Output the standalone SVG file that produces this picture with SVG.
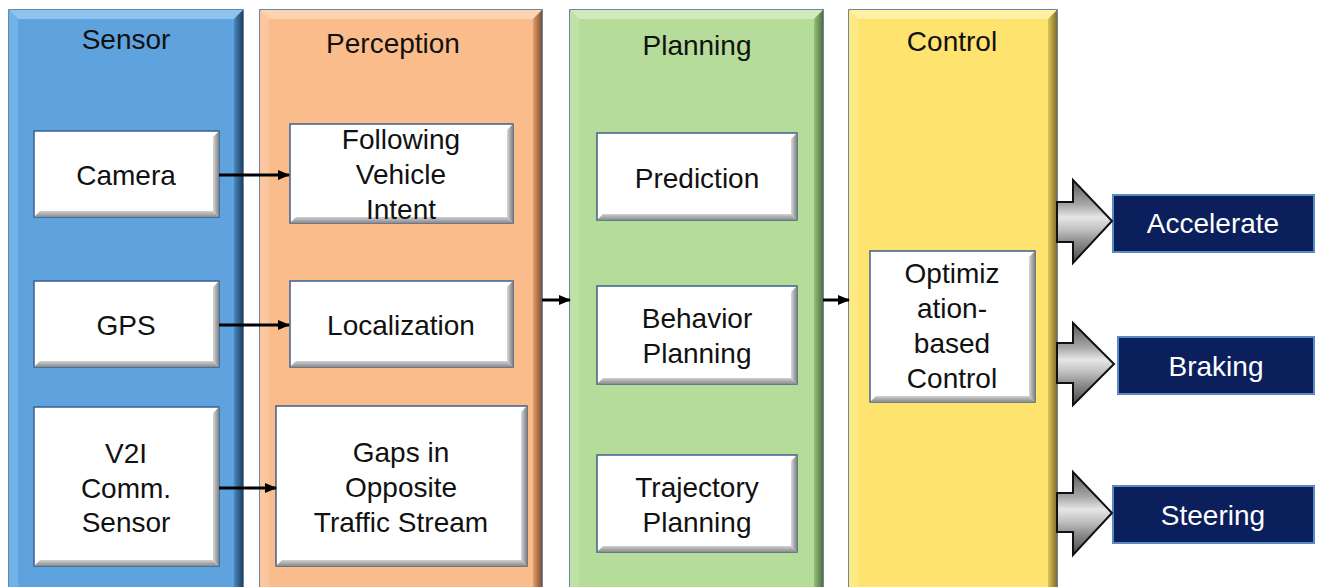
<svg xmlns="http://www.w3.org/2000/svg" width="1320" height="587" viewBox="0 0 1320 587">
<defs>
<style>
.t{font-family:"Liberation Sans",Arial,sans-serif;font-size:28px;fill:#111;text-anchor:middle}
.w{fill:#fff}
.pstroke{stroke:#3a5f8a;stroke-width:1.5}
.box{fill:#fff;stroke:#3b6090;stroke-width:1.5}
.br{fill:url(#gR)}
.bb{fill:url(#gB)}
.out{fill:#0b1f5c;stroke:#5a8ac0;stroke-width:2}
.conn{stroke:#000;stroke-width:3;fill:none;marker-end:url(#ah)}
.garrow{fill:url(#gA);stroke:#111;stroke-width:2;stroke-linejoin:miter}
</style>
<linearGradient id="gR" x1="0" y1="0" x2="1" y2="0"><stop offset="0" stop-color="#d8d8d8"/><stop offset="1" stop-color="#808080"/></linearGradient>
<linearGradient id="gB" x1="0" y1="0" x2="0" y2="1"><stop offset="0" stop-color="#d0d0d0"/><stop offset="1" stop-color="#8a8a8a"/></linearGradient>
<linearGradient id="gA" x1="0" y1="0" x2="0" y2="1"><stop offset="0" stop-color="#5a5a5a"/><stop offset="0.3" stop-color="#a8a8a8"/><stop offset="0.45" stop-color="#e6e6e6"/><stop offset="0.6" stop-color="#c0c0c0"/><stop offset="0.75" stop-color="#8c8c8c"/><stop offset="1" stop-color="#4a4a4a"/></linearGradient>
<linearGradient id="gSr" x1="0" y1="0" x2="1" y2="0"><stop offset="0" stop-color="#4a88c0"/><stop offset="1" stop-color="#1f3f60"/></linearGradient>
<linearGradient id="gPr" x1="0" y1="0" x2="1" y2="0"><stop offset="0" stop-color="#e49e6a"/><stop offset="1" stop-color="#7a5034"/></linearGradient>
<linearGradient id="gLr" x1="0" y1="0" x2="1" y2="0"><stop offset="0" stop-color="#95bf78"/><stop offset="1" stop-color="#53703f"/></linearGradient>
<linearGradient id="gCr" x1="0" y1="0" x2="1" y2="0"><stop offset="0" stop-color="#e0c455"/><stop offset="1" stop-color="#7e6c2a"/></linearGradient>
<marker id="ah" markerWidth="12" markerHeight="10" refX="11" refY="5" orient="auto" markerUnits="userSpaceOnUse"><path d="M0,0 L12,5 L0,10 Z" fill="#000"/></marker>
</defs>
<rect width="1320" height="587" fill="#fff"/>

<g id="panel-sensor">
<rect x="9" y="10" width="234" height="600" fill="#5ea3dd" class="pstroke"/>
<polygon points="9,10 243,10 234,19 18,19" fill="#8fc3ef"/>
<polygon points="9,10 18,19 18,600 9,600" fill="#72b2e8"/>
<polygon points="243,10 243,600 234,600 234,19" fill="url(#gSr)"/>
<text class="t" x="126" y="49">Sensor</text>
</g>
<g id="panel-perception">
<rect x="260" y="10" width="282" height="600" fill="#fbbc8c" class="pstroke"/>
<polygon points="260,10 542,10 533,19 269,19" fill="#fdd4b2"/>
<polygon points="260,10 269,19 269,600 260,600" fill="#fcc69e"/>
<polygon points="542,10 542,600 533,600 533,19" fill="url(#gPr)"/>
<text class="t" x="393" y="53">Perception</text>
</g>
<g id="panel-planning">
<rect x="570" y="10" width="253" height="600" fill="#b5dc99" class="pstroke"/>
<polygon points="570,10 823,10 814,19 579,19" fill="#d0eabb"/>
<polygon points="570,10 579,19 579,600 570,600" fill="#c0e2a6"/>
<polygon points="823,10 823,600 814,600 814,19" fill="url(#gLr)"/>
<text class="t" x="697" y="55">Planning</text>
</g>
<g id="panel-control">
<rect x="849" y="10" width="208" height="600" fill="#fee36f" class="pstroke"/>
<polygon points="849,10 1057,10 1048,19 858,19" fill="#fff0a6"/>
<polygon points="849,10 858,19 858,600 849,600" fill="#fee985"/>
<polygon points="1057,10 1057,600 1048,600 1048,19" fill="url(#gCr)"/>
<text class="t" x="952" y="51">Control</text>
</g>

<g id="camera">
<rect class="box" x="34" y="131" width="185" height="86"/>
<polygon class="br" points="219,131 219,217 213,211 213,137"/>
<polygon class="bb" points="34,217 219,217 213,211 40,211"/>
<text class="t" x="126" y="185">Camera</text>
</g>
<g id="gps">
<rect class="box" x="34" y="281" width="185" height="86"/>
<polygon class="br" points="219,281 219,367 213,361 213,287"/>
<polygon class="bb" points="34,367 219,367 213,361 40,361"/>
<text class="t" x="126" y="335">GPS</text>
</g>
<g id="v2i">
<rect class="box" x="34" y="407" width="185" height="159"/>
<polygon class="br" points="219,407 219,566 213,560 213,413"/>
<polygon class="bb" points="34,566 219,566 213,560 40,560"/>
<text class="t" x="126" y="463">V2I</text>
<text class="t" x="126" y="498">Comm.</text>
<text class="t" x="126" y="532">Sensor</text>
</g>

<g id="following">
<rect class="box" x="290" y="124" width="223" height="99"/>
<polygon class="br" points="513,124 513,223 507,217 507,130"/>
<polygon class="bb" points="290,223 513,223 507,217 296,217"/>
<text class="t" x="401" y="149">Following</text>
<text class="t" x="401" y="184">Vehicle</text>
<text class="t" x="401" y="219">Intent</text>
</g>
<g id="localization">
<rect class="box" x="290" y="281" width="223" height="86"/>
<polygon class="br" points="513,281 513,367 507,361 507,287"/>
<polygon class="bb" points="290,367 513,367 507,361 296,361"/>
<text class="t" x="401" y="335">Localization</text>
</g>
<g id="gaps">
<rect class="box" x="276" y="406" width="251" height="160"/>
<polygon class="br" points="527,406 527,566 521,560 521,412"/>
<polygon class="bb" points="276,566 527,566 521,560 282,560"/>
<text class="t" x="401" y="462">Gaps in</text>
<text class="t" x="401" y="497">Opposite</text>
<text class="t" x="401" y="532">Traffic Stream</text>
</g>

<g id="prediction">
<rect class="box" x="597" y="133" width="200" height="87"/>
<polygon class="br" points="797,133 797,220 791,214 791,139"/>
<polygon class="bb" points="597,220 797,220 791,214 603,214"/>
<text class="t" x="697" y="188">Prediction</text>
</g>
<g id="behavior">
<rect class="box" x="597" y="286" width="200" height="98"/>
<polygon class="br" points="797,286 797,384 791,378 791,292"/>
<polygon class="bb" points="597,384 797,384 791,378 603,378"/>
<text class="t" x="697" y="328">Behavior</text>
<text class="t" x="697" y="363">Planning</text>
</g>
<g id="trajectory">
<rect class="box" x="597" y="455" width="200" height="97"/>
<polygon class="br" points="797,455 797,552 791,546 791,461"/>
<polygon class="bb" points="597,552 797,552 791,546 603,546"/>
<text class="t" x="697" y="497">Trajectory</text>
<text class="t" x="697" y="532">Planning</text>
</g>

<g id="optimization">
<rect class="box" x="870" y="251" width="165" height="151"/>
<polygon class="br" points="1035,251 1035,402 1029,396 1029,257"/>
<polygon class="bb" points="870,402 1035,402 1029,396 876,396"/>
<text class="t" x="952" y="283">Optimiz</text>
<text class="t" x="952" y="318">ation-</text>
<text class="t" x="952" y="353">based</text>
<text class="t" x="952" y="388">Control</text>
</g>

<g id="accelerate">
<rect class="out" x="1113" y="195" width="201" height="57"/>
<text class="t w" x="1213" y="233">Accelerate</text>
</g>
<g id="braking">
<rect class="out" x="1118" y="337" width="196" height="57"/>
<text class="t w" x="1216" y="376">Braking</text>
</g>
<g id="steering">
<rect class="out" x="1113" y="486" width="201" height="57"/>
<text class="t w" x="1213" y="525">Steering</text>
</g>

<g id="connectors">
<line class="conn" x1="219" y1="175" x2="289" y2="175"/>
<line class="conn" x1="219" y1="325" x2="289" y2="325"/>
<line class="conn" x1="219" y1="488" x2="276" y2="488"/>
<line class="conn" x1="542" y1="300" x2="570" y2="300"/>
<line class="conn" x1="823" y1="300" x2="849" y2="300"/>
<polygon class="garrow" points="1057,202 1073,202 1073,180 1112,221 1073,263 1073,242 1057,242"/>
<polygon class="garrow" points="1057,343 1073,343 1073,323 1114,364 1073,405 1073,383 1057,383"/>
<polygon class="garrow" points="1057,493 1073,493 1073,472 1112,513 1073,555 1073,532 1057,532"/>
</g>
</svg>
